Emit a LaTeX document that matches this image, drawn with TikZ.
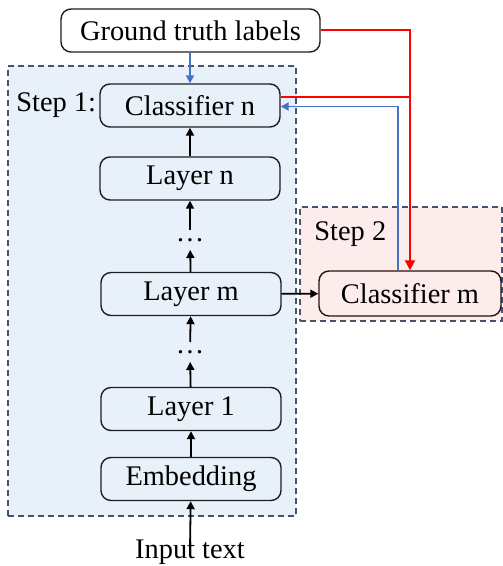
\documentclass[tikz,border=0pt]{standalone}
\usepackage{fontspec}
\setmainfont{Liberation Serif}
\usetikzlibrary{arrows.meta,positioning}
\definecolor{stepblue}{HTML}{E8F0F9}
\definecolor{steppink}{HTML}{FDECEC}
\definecolor{dashcol}{HTML}{44546A}
\definecolor{lineblue}{HTML}{4472C4}
\definecolor{linered}{HTML}{FF0000}
\definecolor{boxdark}{HTML}{1F1F1F}
\begin{document}
\begin{tikzpicture}[x=0.5pt,y=-0.5pt,
  font=\fontsize{14.2pt}{16pt}\selectfont,
  box/.style={draw=boxdark,line width=0.7pt,rounded corners=5pt,minimum width=90pt,minimum height=21.5pt,inner sep=0pt},
  stepframe/.style={draw=dashcol,dashed,line width=0.7pt,dash pattern=on 3pt off 2pt,inner sep=0pt},
  blk/.style={line width=0.9pt,-{Triangle[length=4pt,width=4pt]}},
  bluearrow/.style={draw=lineblue,line width=0.9pt,-{Triangle[length=4pt,width=4pt]}},
  redline/.style={draw=linered,line width=1pt},
  redarrow/.style={draw=linered,line width=1pt,-{Triangle[length=5pt,width=5pt]}},
  dotsnode/.style={inner sep=0pt,outer sep=0pt,text height=1.5pt,text depth=0pt,minimum height=10pt}
]
\useasboundingbox (0,0) rectangle (502,566);
% step frames
\node[stepframe,fill=stepblue,minimum width=144pt,minimum height=225pt] (s1) at (152,291) {};
\node[stepframe,fill=steppink,minimum width=101pt,minimum height=57pt] (s2) at (401,264) {};
% nodes
\node[box,fill=white,minimum width=129.5pt] (gt) at (190.5,30.5) {Ground truth labels};
\node[box,fill=stepblue] (cn) at (190,105.5) {Classifier n};
\node[box,fill=stepblue] (ln) at (190,178.5) {Layer n};
\node[dotsnode] (d1) at (190,240) {\dots};
\node[box,fill=stepblue] (lm) at (191,294) {Layer m};
\node[dotsnode] (d2) at (190,352) {\dots};
\node[box,fill=stepblue] (l1) at (191,409) {Layer 1};
\node[box,fill=stepblue] (emb) at (191,479) {Embedding};
\node[inner sep=0pt,anchor=north] (in) at (190,539) {Input text};
\node[box,fill=steppink,draw=boxdark!80!red!60!black,minimum width=91pt,minimum height=22.5pt] (cm) at (410,293.5) {Classifier m};
\node[anchor=west,inner sep=0pt] (s1l) at (16,105) {Step 1:};
\node[anchor=west,inner sep=0pt] (s2l) at (314,234) {Step 2};
% black arrows
\draw[blk] (ln) -- (cn);
\draw[blk] (d1) -- (ln);
\draw[blk] (lm) -- (d1);
\draw[blk] (d2) -- (lm);
\draw[blk] (l1) -- (d2);
\draw[blk] (emb) -- (l1);
\draw[blk] ([yshift=-5pt]in.north) -- (emb);
\draw[blk] (lm) -- (cm);
% blue
\draw[bluearrow] (gt.south -| cn.north) -- (cn.north);
\draw[bluearrow] ([xshift=-6pt]cm.north) |- ([yshift=-0.5pt]cn.east);
% red
\draw[redline] ([yshift=4pt]cn.east) -- ([yshift=4pt]cn.east -| cm.north);
\draw[redarrow] (gt.east) -| (cm.north);
\end{tikzpicture}
\end{document}
